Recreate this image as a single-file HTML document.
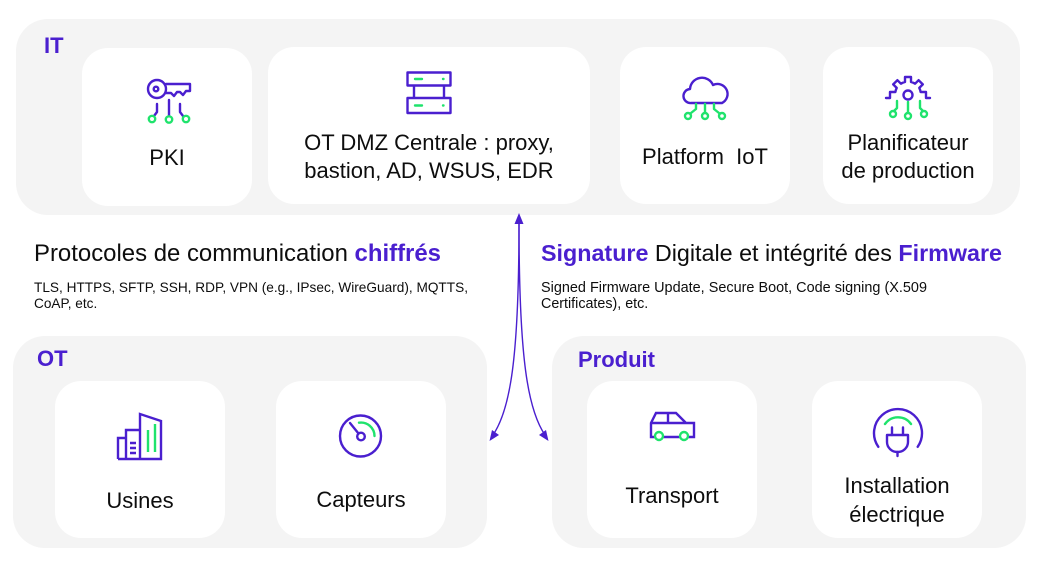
<!DOCTYPE html>
<html><head><meta charset="utf-8"><style>
html,body{margin:0;padding:0;background:#fff;}
svg{display:block;}
text{font-family:"Liberation Sans",Arial,sans-serif;}
</style></head><body>
<svg width="1047" height="565" viewBox="0 0 1047 565" xmlns="http://www.w3.org/2000/svg">
<rect x="0" y="0" width="1047" height="565" fill="#fff"/>
<!-- panels -->
<rect x="16" y="19" width="1004" height="196" rx="32" fill="#f4f4f4"/>
<rect x="13" y="336" width="474" height="212" rx="32" fill="#f4f4f4"/>
<rect x="552" y="336" width="474" height="212" rx="32" fill="#f4f4f4"/>
<!-- cards -->
<g fill="#fff">
<rect x="82" y="48" width="170" height="158" rx="26"/>
<rect x="268" y="47" width="322" height="157" rx="26"/>
<rect x="620" y="47" width="170" height="157" rx="26"/>
<rect x="823" y="47" width="170" height="157" rx="26"/>
<rect x="55" y="381" width="170" height="157" rx="26"/>
<rect x="276" y="381" width="170" height="157" rx="26"/>
<rect x="587" y="381" width="170" height="157" rx="26"/>
<rect x="812" y="381" width="170" height="157" rx="26"/>
</g>
<!-- group labels -->
<g fill="#4a1fcf" font-weight="bold" font-size="22">
<text x="44" y="53">IT</text>
<text x="37" y="366">OT</text>
<text x="578" y="367">Produit</text>
</g>
<!-- card labels -->
<g fill="#0d0d0d" font-size="22" text-anchor="middle">
<text x="167" y="165">PKI</text>
<text x="429" y="150">OT DMZ Centrale : proxy,</text>
<text x="429" y="178">bastion, AD, WSUS, EDR</text>
<text x="705" y="164" xml:space="preserve">Platform  IoT</text>
<text x="908" y="150">Planificateur</text>
<text x="908" y="178">de production</text>
<text x="140" y="508">Usines</text>
<text x="361" y="507">Capteurs</text>
<text x="672" y="503">Transport</text>
<text x="897" y="493">Installation</text>
<text x="897" y="522">électrique</text>
</g>
<!-- headings -->
<text x="34" y="261" font-size="24" fill="#0d0d0d" textLength="407" lengthAdjust="spacingAndGlyphs">Protocoles de communication <tspan font-weight="bold" fill="#4a1fcf">chiffrés</tspan></text>
<text x="541" y="261" font-size="23.4" fill="#0d0d0d" textLength="461" lengthAdjust="spacingAndGlyphs"><tspan font-weight="bold" fill="#4a1fcf">Signature</tspan> Digitale et intégrité des <tspan font-weight="bold" fill="#4a1fcf">Firmware</tspan></text>
<g fill="#0d0d0d">
<text x="34" y="292" font-size="13.6" textLength="434" lengthAdjust="spacingAndGlyphs">TLS, HTTPS, SFTP, SSH, RDP, VPN (e.g., IPsec, WireGuard), MQTTS,</text>
<text x="34" y="308" font-size="13.6">CoAP, etc.</text>
<text x="541" y="292" font-size="14.3" textLength="386" lengthAdjust="spacingAndGlyphs">Signed Firmware Update, Secure Boot, Code signing (X.509</text>
<text x="541" y="308" font-size="14.3">Certificates), etc.</text>
</g>
<!-- arrows -->
<g stroke="#4a1fcf" stroke-width="1.4" fill="none">
<path d="M519,222 C519,360 510,410 493,435"/>
<path d="M519,222 C519,360 528,410 545,435"/>
</g>
<g fill="#4a1fcf">
<polygon points="519,213 514.5,224 523.5,224"/>
<polygon points="489.5,441 492,430 499,435"/>
<polygon points="548.5,441 546,430 539,435"/>
</g>
<!-- icons -->
<g fill="none" stroke-width="2.4" stroke-linecap="round" stroke-linejoin="round">
<!-- key -->
<g stroke="#4a1fcf">
<circle cx="157" cy="89" r="9"/>
<circle cx="156" cy="89" r="2.3"/>
<path d="M166,84 H190 V91 H186 L183,95 L180,92 H177 L174,96 L171,93 H166"/>
<path d="M157,104 V112 L154,116"/>
<path d="M169,100 V115.5"/>
<path d="M180,104 V112 L183,116"/>
</g>
<g stroke="#1fe36c">
<circle cx="152" cy="119" r="3.2"/>
<circle cx="169" cy="119.5" r="3.2"/>
<circle cx="186" cy="119" r="3.2"/>
</g>
<!-- server -->
<g stroke="#4a1fcf" stroke-linecap="butt">
<rect x="407.5" y="72.5" width="43" height="13"/>
<rect x="407.5" y="98" width="43" height="15"/>
<path d="M414,85.5 V98 M444,85.5 V98"/>
</g>
<g stroke="#1fe36c">
<path d="M415,79 H422 M415,105.5 H422"/>
<path d="M443,79 H443.5 M443,105.5 H443.5"/>
</g>
<!-- cloud -->
<path stroke="#4a1fcf" d="M691,103 a7,7 0 0 1 -1,-14 a12,12 0 0 1 23,-4 a8.5,8.5 0 0 1 9,18 Z"/>
<g stroke="#1fe36c">
<path d="M696,104 V109 L691,113"/>
<path d="M705,104 V112.5"/>
<path d="M714,104 V109 L719,113"/>
<circle cx="688" cy="116" r="3"/>
<circle cx="705" cy="116" r="3"/>
<circle cx="722" cy="116" r="3"/>
</g>
<!-- gear -->
<g stroke="#4a1fcf">
<path d="M886,98 H890 V92 H895.4 A13,13 0 0 1 896.7,87.9 L893.2,84.4 L897.4,80.2 L900.9,83.7 A13,13 0 0 1 905,82 V77 H911 V82 A13,13 0 0 1 915.1,83.7 L918.6,80.2 L922.8,84.4 L919.3,87.9 A13,13 0 0 1 920.6,92 H926 V98 H930"/>
<circle cx="908" cy="95" r="4.5"/>
</g>
<g stroke="#1fe36c">
<path d="M897,101 V108 L894,111"/>
<path d="M908,102 V112.5"/>
<path d="M920,101 V108 L923,111"/>
<circle cx="893" cy="114" r="3"/>
<circle cx="908" cy="116" r="3"/>
<circle cx="924" cy="114" r="3"/>
</g>
<!-- building -->
<g stroke="#4a1fcf" stroke-linecap="butt" stroke-linejoin="miter">
<path d="M118,459 H161 V421 L140,414 V459"/>
<path d="M126,459 V430 H140"/>
<path d="M126,438 H118 V459"/>
<path d="M130,443 H136 M130,448 H136 M130,453 H136"/>
</g>
<g stroke="#1fe36c" stroke-linecap="butt">
<path d="M148,430 V452 M155,424 V452"/>
</g>
<!-- gauge -->
<g stroke="#4a1fcf">
<circle cx="360.5" cy="436" r="20.5"/>
<circle cx="361" cy="436.5" r="3.8"/>
<path d="M358.5,433.5 L350,423"/>
</g>
<path stroke="#1fe36c" d="M359,422.7 A13.5,13.5 0 0 1 374.5,436"/>
<!-- car -->
<path stroke="#4a1fcf" stroke-linejoin="miter" d="M656,437 H651 V423 L656,413 H676 L686,423 H694 V437 H689 M679,437 H664 M651,423 H686 M668,413 V423"/>
<g stroke="#1fe36c" fill="#fff">
<circle cx="659" cy="436" r="4"/>
<circle cx="684" cy="436" r="4"/>
</g>
<!-- plug -->
<g stroke="#4a1fcf">
<path d="M878.3,446.8 A24,24 0 1 1 917.7,446.8"/>
<path d="M887,435 H908 V442 A10.5,10 0 0 1 887,442 Z"/>
<path d="M892,427.5 V435 M903,427.5 V435 M897.5,452 V456"/>
</g>
<path stroke="#1fe36c" d="M885,424 A16,16 0 0 1 911,424"/>
</g>
</svg>
</body></html>
